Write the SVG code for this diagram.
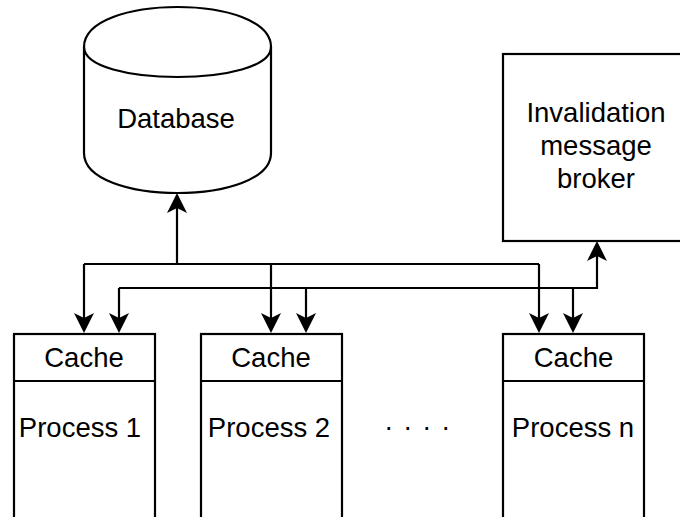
<svg xmlns="http://www.w3.org/2000/svg" width="680" height="517" viewBox="0 0 680 517">
<style>
.s{fill:#fff;stroke:#000;stroke-width:2.2}
.l{fill:none;stroke:#000;stroke-width:2.2}
.t{font-family:"Liberation Sans",Arial,Helvetica,sans-serif;font-size:27.5px;fill:#000;text-anchor:middle}
</style>
<defs>
<marker id="a" markerUnits="userSpaceOnUse" markerWidth="20" markerHeight="20" refX="5" refY="10" orient="auto">
<path d="M0,0 L20,10 L0,20 L5,10 Z" fill="#000"/>
</marker>
</defs>
<rect width="680" height="517" fill="#fff"/>
<g id="database">
<path class="s" d="M84,47 C84,-6.33 271,-6.33 271,47 L271,153 C271,206.33 84,206.33 84,153 Z"/>
<path class="l" d="M84,47 C84,87 271,87 271,47"/>
<text class="t" x="176" y="128">Database</text>
</g>
<g id="broker">
<rect class="s" x="503" y="54" width="190" height="187"/>
<text class="t" x="596" y="122">Invalidation</text>
<text class="t" x="596" y="155">message</text>
<text class="t" x="596" y="188">broker</text>
</g>
<g id="process1">
<rect class="s" x="14" y="334" width="141" height="190"/>
<line class="l" x1="14" y1="381" x2="155" y2="381"/>
<text class="t" x="84" y="367">Cache</text>
<text class="t" x="80" y="437">Process 1</text>
</g>
<g id="process2">
<rect class="s" x="201" y="334" width="141" height="190"/>
<line class="l" x1="201" y1="381" x2="342" y2="381"/>
<text class="t" x="271" y="367">Cache</text>
<text class="t" x="269" y="437">Process 2</text>
</g>
<g id="processn">
<rect class="s" x="503" y="334" width="141" height="190"/>
<line class="l" x1="503" y1="381" x2="644" y2="381"/>
<text class="t" x="573.5" y="367">Cache</text>
<text class="t" x="573" y="437">Process n</text>
</g>
<g id="ellipsis">
<text x="385" y="430" style="font-family:'Liberation Sans',Arial,sans-serif;font-size:27px;letter-spacing:11.5px">....</text>
</g>
<g id="connectors">
<path class="l" d="M84,264 L539,264"/>
<path class="l" d="M177,264 L177,208" marker-end="url(#a)"/>
<path class="l" d="M84,264 L84,318" marker-end="url(#a)"/>
<path class="l" d="M271,264 L271,318" marker-end="url(#a)"/>
<path class="l" d="M539,264 L539,318" marker-end="url(#a)"/>
<path class="l" d="M119,288 L597,288 L597,256" marker-end="url(#a)"/>
<path class="l" d="M119,288 L119,318" marker-end="url(#a)"/>
<path class="l" d="M306,288 L306,318" marker-end="url(#a)"/>
<path class="l" d="M573,288 L573,318" marker-end="url(#a)"/>
</g>
</svg>
